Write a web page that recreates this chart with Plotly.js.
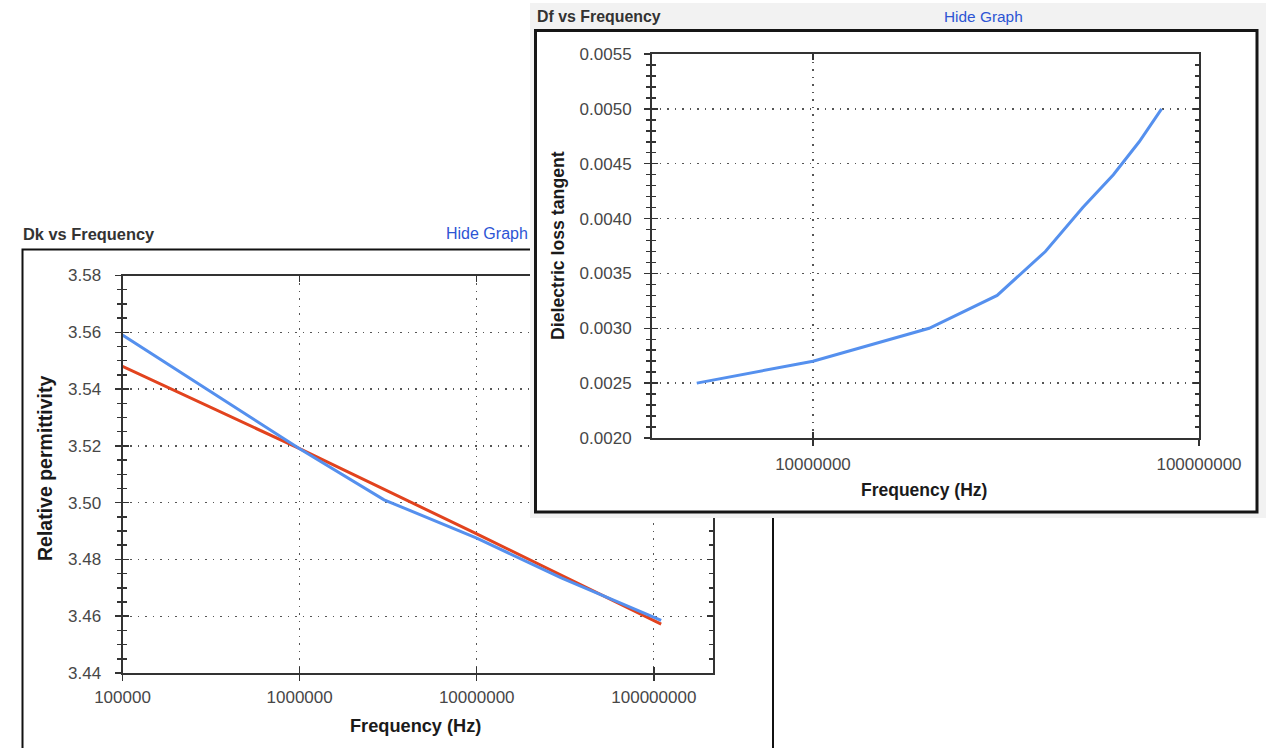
<!DOCTYPE html>
<html>
<head>
<meta charset="utf-8">
<script src="https://cdn.plot.ly/plotly-3.0.1.min.js"></script>
<style>
  html, body { margin: 0; padding: 0; background: #ffffff; }
  #wrap { position: relative; width: 1266px; height: 748px; overflow: hidden; }
  #dk { position: absolute; left: 0; top: 0; width: 1266px; height: 748px; }
  #df { position: absolute; left: 530px; top: 3px; width: 736px; height: 515px; z-index: 2; }
</style>
</head>
<body>
<div id="wrap">
  <div id="dk"></div>
  <div id="df"></div>
</div>
<script>
// ---------------- data ----------------
const dkFreqBlue = [1e5, 1e6, 3e6, 1e7, 3e7, 1.1e8];
const dkValBlue  = [3.559, 3.519, 3.501, 3.4875, 3.4735, 3.4585];
const dkFreqRed  = [1e5, 1e6, 1e7, 1.1e8];
const dkValRed   = [3.548, 3.519, 3.489, 3.4572];
const dkTickVals = [1e5, 1e6, 1e7, 1e8];
const dkTickText = ["100000", "1000000", "10000000", "100000000"];

const dfFreq = [5e6, 1e7, 2e7, 3e7, 4e7, 5e7, 6e7, 7e7, 8e7];
const dfVal  = [0.0025, 0.0027, 0.0030, 0.0033, 0.0037, 0.0041, 0.0044, 0.0047, 0.0050];
const dfTickVals = [1e7, 1e8];
const dfTickText = ["10000000", "100000000"];

// ---------------- style ----------------
const FONT = "Liberation Sans, Arial, sans-serif";
const AX = "#333333";
const GRID = "#555555";
const TICKFONT = {family: FONT, size: 17, color: "#474747"};
const BLUE = "#5590ee";
const RED = "#e2431e";

function mkAxes(W, H, box, xr, yr, xtv, xtt, ydt, ymin, yfmt, nminor, ystand, xstand) {
  const xd = [box.l / W, box.r / W];
  const yd = [1 - box.b / H, 1 - box.t / H];
  const common = {showgrid: false, zeroline: false, fixedrange: true};
  return {
    xaxis: Object.assign({}, common, {
      type: "log", range: xr, domain: xd, anchor: "y",
      tickmode: "array", tickvals: xtv, ticktext: xtt,
      ticks: "outside", ticklen: 6, tickwidth: 1.5, tickcolor: AX,
      showline: true, linecolor: AX, linewidth: 2, mirror: true,
      showgrid: true, gridcolor: GRID, gridwidth: 1.3, griddash: "1.5px,6px",
      tickfont: TICKFONT, ticklabelstandoff: xstand
    }),
    xaxis2: Object.assign({}, common, {
      type: "log", range: xr, overlaying: "x", anchor: "y2",
      tickmode: "array", tickvals: xtv, showticklabels: false,
      ticks: "inside", ticklen: 6, tickwidth: 1.5, tickcolor: AX,
      showline: false, mirror: "ticks"
    }),
    yaxis: Object.assign({}, common, {
      range: yr, domain: yd, anchor: "x",
      tick0: ymin, dtick: ydt, tickformat: yfmt,
      ticks: "outside", ticklen: 6, tickwidth: 1.5, tickcolor: AX,
      minor: {dtick: ydt / nminor, ticks: "outside", ticklen: 4, tickwidth: 1.5, tickcolor: AX, showgrid: false},
      showline: true, linecolor: AX, linewidth: 2, mirror: true,
      showgrid: true, gridcolor: GRID, gridwidth: 1.3, griddash: "1.5px,6px",
      tickfont: TICKFONT, ticklabelstandoff: ystand
    }),
    yaxis2: Object.assign({}, common, {
      range: yr, overlaying: "y", anchor: "x2",
      tick0: ymin, dtick: ydt, showticklabels: false,
      ticks: "inside", ticklen: 6, tickwidth: 1.5, tickcolor: AX,
      minor: {dtick: ydt / nminor, ticks: "inside", ticklen: 4, tickwidth: 1.5, tickcolor: AX, showgrid: false},
      showline: false, mirror: "ticks"
    })
  };
}

function ann(W, H, x, y, text, opts) {
  return Object.assign({
    xref: "paper", yref: "paper", x: x / W, y: 1 - y / H,
    xanchor: "center", yanchor: "middle", showarrow: false, text: text
  }, opts || {});
}

// ---------------- Dk chart ----------------
(function () {
  const W = 1266, H = 748;
  const box = {l: 122.5, r: 713, t: 275.5, b: 673};
  const axes = mkAxes(W, H, box, [5, 8.334], [3.44, 3.58], dkTickVals, dkTickText, 0.02, 3.44, ".2f", 4, 10, 2);
  const traces = [
    {x: dkFreqRed, y: dkValRed, type: "scatter", mode: "lines", line: {color: RED, width: 3}, xaxis: "x", yaxis: "y", name: "Dk 2"},
    {x: dkFreqBlue, y: dkValBlue, type: "scatter", mode: "lines", line: {color: BLUE, width: 3}, xaxis: "x", yaxis: "y", name: "Dk 1"},
    {x: [], y: [], type: "scatter", mode: "lines", xaxis: "x2", yaxis: "y2", hoverinfo: "skip"}
  ];
  const layout = Object.assign({
    width: W, height: H, margin: {l: 0, r: 0, t: 0, b: 0},
    paper_bgcolor: "#ffffff", plot_bgcolor: "#ffffff", showlegend: false,
    font: {family: FONT},
    shapes: [
      {type: "rect", xref: "paper", yref: "paper", x0: 22.5 / W, x1: 773 / W, y0: 1 - 770 / H, y1: 1 - 249.5 / H,
       line: {color: "#111111", width: 2}, fillcolor: "rgba(0,0,0,0)", layer: "below"}
    ],
    annotations: [
      ann(W, H, 21, 234, "<b>Dk vs Frequency</b>", {xanchor: "left", font: {family: FONT, size: 16.4, color: "#333333"}}),
      ann(W, H, 444, 234, "Hide Graph", {xanchor: "left", font: {family: FONT, size: 16, color: "#2d55d4"}}),
      ann(W, H, 45, 469, "<b>Relative permittivity</b>", {textangle: -90, font: {family: FONT, size: 19.5, color: "#1a1a1a"}}),
      ann(W, H, 415, 726, "<b>Frequency (Hz)</b>", {font: {family: FONT, size: 18.2, color: "#1a1a1a"}})
    ]
  }, axes);
  Plotly.newPlot("dk", traces, layout, {staticPlot: true});
})();

// ---------------- Df chart ----------------
(function () {
  const W = 736, H = 515;
  const box = {l: 122, r: 669, t: 51, b: 435};
  const axes = mkAxes(W, H, box, [6.583, 8], [0.002, 0.0055], dfTickVals, dfTickText, 0.0005, 0.002, ".4f", 5, 9, 4);
  const traces = [
    {x: dfFreq, y: dfVal, type: "scatter", mode: "lines", line: {color: BLUE, width: 3}, xaxis: "x", yaxis: "y", name: "Df"},
    {x: [], y: [], type: "scatter", mode: "lines", xaxis: "x2", yaxis: "y2", hoverinfo: "skip"}
  ];
  const layout = Object.assign({
    width: W, height: H, margin: {l: 0, r: 0, t: 0, b: 0},
    paper_bgcolor: "#f2f2f2", plot_bgcolor: "#ffffff", showlegend: false,
    font: {family: FONT},
    shapes: [
      {type: "rect", xref: "paper", yref: "paper", x0: 5.5 / W, x1: 727 / W, y0: 1 - 509 / H, y1: 1 - 27.5 / H,
       line: {color: "#151515", width: 3}, fillcolor: "#ffffff", layer: "below"}
    ],
    annotations: [
      ann(W, H, 5, 13, "<b>Df vs Frequency</b>", {xanchor: "left", font: {family: FONT, size: 15.9, color: "#333333"}}),
      ann(W, H, 412, 13, "Hide Graph", {xanchor: "left", font: {family: FONT, size: 15.4, color: "#2d55d4"}}),
      ann(W, H, 28, 243, "<b>Dielectric loss tangent</b>", {textangle: -90, font: {family: FONT, size: 17.7, color: "#1a1a1a"}}),
      ann(W, H, 394, 487, "<b>Frequency (Hz)</b>", {font: {family: FONT, size: 17.5, color: "#1a1a1a"}})
    ]
  }, axes);
  Plotly.newPlot("df", traces, layout, {staticPlot: true});
})();
</script>
</body>
</html>
